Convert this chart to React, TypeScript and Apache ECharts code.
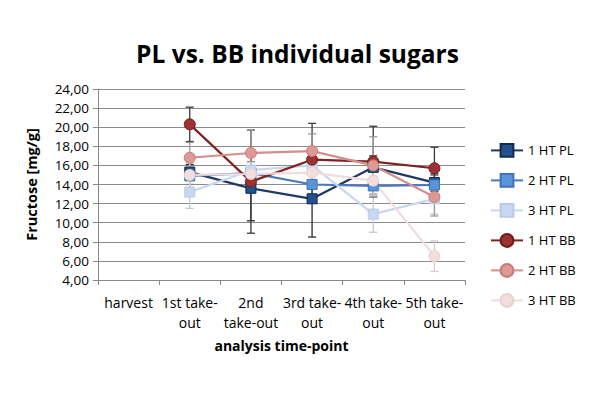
import React, { useEffect, useRef } from "react";
import * as echarts from "echarts";

const categories = ["harvest", "1st take-\nout", "2nd\ntake-out", "3rd take-\nout", "4th take-\nout", "5th take-\nout"];
const seriesNames = ["1 HT PL", "2 HT PL", "3 HT PL", "1 HT BB", "2 HT BB", "3 HT BB"];

const ht1PL = [null, 15.3, 13.6, 12.5, 15.8, 14.2];
const ht2PL = [null, 14.9, 15.2, 14.0, 13.85, 13.95];
const ht3PL = [null, 13.2, 15.5, 16.0, 10.9, 12.5];
const ht1BB = [null, 20.3, 14.3, 16.6, 16.4, 15.7];
const ht2BB = [null, 16.8, 17.3, 17.5, 16.0, 12.7];
const ht3BB = [null, 15.0, 15.1, 15.25, 14.4, 6.5];

// symmetric error (± mg/g)
const err1PL = [null, 0.8, 3.4, 4.0, 1.2, 0.9];
const err2PL = [null, 0.9, 1.2, 1.0, 1.0, 1.0];
const err3PL = [null, 1.7, 2.0, 1.5, 1.9, 1.6];
const err1BB = [null, 1.8, 5.4, 3.8, 3.7, 2.2];
const err2BB = [null, 1.6, 2.4, 1.8, 3.0, 2.0];
const err3BB = [null, 1.3, 1.2, 1.6, 1.6, 1.6];

const lineColors = ["#1F3864", "#4A78C0", "#C9D7EE", "#7E2323", "#D48E8C", "#F1DCDC"];
const markerColors = ["#23508F", "#5A93DB", "#C8D8F0", "#9E3232", "#DE9896", "#F3DEDE"];
const markerBorders = ["#102A50", "#3E73BA", "#B9CBE8", "#6E1C1C", "#C87C7A", "#EBD0D0"];
const errColors = ["#2a2a2a", "#8A8A8A", "#C8C8C8", "#3a3a3a", "#9A9A9A", "#D0D0D0"];

export default function App() {
  const ref = useRef<HTMLDivElement>(null);
  useEffect(() => {
    if (!ref.current) return;
    const chart = echarts.init(ref.current, undefined, { renderer: "svg" });
    const values = [ht1PL, ht2PL, ht3PL, ht1BB, ht2BB, ht3BB];
    const errs = [err1PL, err2PL, err3PL, err1BB, err2BB, err3BB];
    const font = "'Open Sans', 'Noto Sans', sans-serif";

    const errSeries: any[] = values.map((vals, si) => ({
      type: "custom",
      name: seriesNames[si] + " err",
      z: 1,
      silent: true,
      data: vals
        .map((v, i) => (v == null ? null : [i, v - (errs[si][i] as number), v + (errs[si][i] as number)]))
        .filter((d) => d != null),
      renderItem: (params: any, api: any) => {
        const x = api.value(0);
        const lo = api.coord([x, api.value(1)]);
        const hi = api.coord([x, api.value(2)]);
        const cw = 4;
        const style = { stroke: errColors[si], lineWidth: 1.3 };
        return {
          type: "group",
          children: [
            { type: "line", shape: { x1: lo[0], y1: lo[1], x2: hi[0], y2: hi[1] }, style },
            { type: "line", shape: { x1: lo[0] - cw, y1: lo[1], x2: lo[0] + cw, y2: lo[1] }, style },
            { type: "line", shape: { x1: hi[0] - cw, y1: hi[1], x2: hi[0] + cw, y2: hi[1] }, style },
          ],
        };
      },
    }));

    const lineSeries: any[] = values.map((vals, si) => ({
      type: "line",
      name: seriesNames[si],
      data: vals,
      z: 3,
      connectNulls: true,
      symbol: si < 3 ? "rect" : "circle",
      symbolSize: si < 3 ? 10 : 11,
      showAllSymbol: true,
      lineStyle: { color: lineColors[si], width: 2.2 },
      itemStyle: { color: markerColors[si], borderColor: markerBorders[si], borderWidth: 1 },
    }));

    chart.setOption({
      animation: false,
      backgroundColor: "#ffffff",
      title: {
        text: "PL vs. BB individual sugars",
        left: "center",
        top: 36,
        textStyle: { fontFamily: font, fontSize: 24.5, fontWeight: "bold", color: "#000" },
      },
      legend: {
        orient: "vertical",
        left: 490,
        top: 143,
        padding: 0,
        itemGap: 15.2,
        itemWidth: 32,
        itemHeight: 16,
        data: seriesNames,
        textStyle: { fontFamily: font, fontSize: 13, color: "#000" },
      },
      grid: { left: 98, right: 130, top: 89, bottom: 117, containLabel: false },
      xAxis: {
        type: "category",
        data: categories,
        boundaryGap: true,
        name: "analysis time-point",
        nameLocation: "middle",
        nameGap: 58,
        nameTextStyle: { fontFamily: font, fontSize: 14, fontWeight: "bold", color: "#000" },
        axisLine: { lineStyle: { color: "#888" } },
        axisTick: { show: true, alignWithLabel: false, length: 5, lineStyle: { color: "#888" } },
        axisLabel: { fontFamily: font, fontSize: 14, color: "#000", margin: 12, lineHeight: 20, interval: 0 },
      },
      yAxis: {
        type: "value",
        min: 4,
        max: 24,
        interval: 2,
        name: "Fructose [mg/g]",
        nameLocation: "middle",
        nameGap: 59,
        nameTextStyle: { fontFamily: font, fontSize: 14.5, fontWeight: "bold", color: "#000" },
        axisLine: { show: true, lineStyle: { color: "#888" } },
        axisTick: { show: true, length: 5, lineStyle: { color: "#888" } },
        axisLabel: {
          fontFamily: font,
          fontSize: 13.5,
          color: "#000",
          margin: 9,
          formatter: (v: number) => v.toFixed(2).replace(".", ","),
        },
        splitLine: { lineStyle: { color: "#8c8c8c", width: 1 } },
      },
      series: [...errSeries, ...lineSeries],
    });
    return () => chart.dispose();
  }, []);
  return <div ref={ref} style={{ width: 595, height: 397, position: "absolute", left: 0, top: 0 }} />;
}
